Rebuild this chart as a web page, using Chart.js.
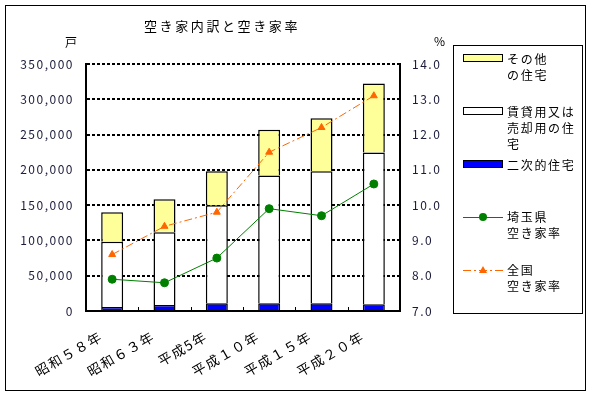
<!DOCTYPE html>
<html>
<head>
<meta charset="utf-8">
<script src="https://cdn.jsdelivr.net/npm/chart.js@4.4.0/dist/chart.umd.min.js"></script>
<style>
  body { margin: 0; background: #fff; font-family: "Noto Sans CJK JP", sans-serif; }
  #wrap { position: relative; width: 593px; height: 397px; }
  #frame { position: absolute; left: 5px; top: 5px; width: 579px; height: 384px; border: 1px solid #000; }
  canvas { position: absolute; left: 0; top: 0; }
  .txt { position: absolute; font-size: 12px; color: #000; white-space: nowrap; line-height: 16px; }
  #title { left: 144px; top: 18px; font-size: 13px; letter-spacing: 2.6px; }
  #legend { position: absolute; left: 453px; top: 45px; width: 128px; height: 267px; border: 1px solid #000; }
  .item { position: absolute; left: 9px; }
  .sw { position: absolute; left: 0; width: 38px; height: 6px; border: 1px solid #000; }
  .lbl { position: absolute; left: 44px; font-size: 12px; line-height: 16px; letter-spacing: 1.7px; white-space: nowrap; }
</style>
</head>
<body>
<div id="wrap">
  <div id="frame"></div>
  <canvas id="chart" width="593" height="397"></canvas>
  <div class="txt" id="title">空き家内訳と空き家率</div>
  <div class="txt" style="left:65px; top:34px;">戸</div>
  <div class="txt" style="left:434px; top:33px;">%</div>
  <div id="legend"></div>
</div>
<script>
// Categories (survey years)
const years = ['昭和５８年', '昭和６３年', '平成5年', '平成１０年', '平成１５年', '平成２０年'];

// Vacant houses by type (戸)
const secondHomes = [5500, 8500, 11000, 11000, 11000, 9500];
const rentSale = [92500, 103000, 139000, 181000, 187000, 215000];
const others = [42000, 47000, 48000, 65000, 75000, 98000];

// Vacancy rates (%)
const saitamaRate = [7.9, 7.8, 8.5, 9.9, 9.7, 10.6];
const nationalRate = [8.6, 9.4, 9.8, 11.5, 12.2, 13.1];

const font = { family: '"Noto Sans CJK JP", sans-serif', size: 12 };

// wider text spacing like the original bitmap font
const spacing = {
    id: 'spacing',
    beforeDraw(chart) { chart.ctx.letterSpacing = '1.5px'; }
};

// small inward tick marks between categories on the bottom axis
const innerTicks = {
    id: 'innerTicks',
    afterDatasetsDraw(chart) {
        const x = chart.scales.x;
        const ctx = chart.ctx;
        const bottom = chart.chartArea.bottom;
        ctx.save();
        ctx.strokeStyle = '#000';
        ctx.lineWidth = 1;
        for (let i = 0; i < years.length - 1; i++) {
            const px = (x.getPixelForValue(i) + x.getPixelForValue(i + 1)) / 2;
            ctx.beginPath();
            ctx.moveTo(Math.round(px) + 0.5, bottom);
            ctx.lineTo(Math.round(px) + 0.5, bottom - 4);
            ctx.stroke();
        }
        ctx.restore();
    }
};

const ctx = document.getElementById('chart').getContext('2d');
new Chart(ctx, {
    data: {
        labels: years,
        datasets: [
            {
                type: 'line', label: '埼玉県空き家率', data: saitamaRate, yAxisID: 'y1', order: 0,
                borderColor: '#008000', backgroundColor: '#008000', borderWidth: 1,
                pointStyle: 'circle', pointRadius: 4, tension: 0
            },
            {
                type: 'line', label: '全国空き家率', data: nationalRate, yAxisID: 'y1', order: 0,
                borderColor: '#FF6600', backgroundColor: '#FF6600', borderWidth: 1,
                borderDash: [8, 3, 2, 3], pointStyle: 'triangle', pointRadius: 4, tension: 0
            },
            {
                type: 'bar', label: '二次的住宅', data: secondHomes, yAxisID: 'y', order: 1,
                backgroundColor: '#0000FF', borderColor: '#000', borderWidth: 1.5
            },
            {
                type: 'bar', label: '賃貸用又は売却用の住宅', data: rentSale, yAxisID: 'y', order: 1,
                backgroundColor: '#FFFFFF', borderColor: '#000', borderWidth: 1.5
            },
            {
                type: 'bar', label: 'その他の住宅', data: others, yAxisID: 'y', order: 1,
                backgroundColor: '#FFFF99', borderColor: '#000', borderWidth: 1.5
            }
        ]
    },
    options: {
        responsive: false,
        animation: false,
        layout: { padding: { top: 64, left: 0, right: 0, bottom: 0 } },
        datasets: { bar: { barPercentage: 0.42, categoryPercentage: 1 } },
        plugins: { legend: { display: false }, tooltip: { enabled: false } },
        scales: {
            x: {
                stacked: true,
                grid: { display: false },
                border: { color: '#000', width: 2 },
                ticks: { font: { family: font.family, size: 13.5 }, color: '#000', minRotation: 30, maxRotation: 30, padding: 9, labelOffset: -11 },
                afterFit(scale) { scale.height = 86; }
            },
            y: {
                stacked: true,
                position: 'left',
                min: 0, max: 350000,
                ticks: { stepSize: 50000, font: font, color: '#1a1a3a', padding: 12,
                    callback: v => v.toLocaleString('en-US') },
                grid: { color: '#000', lineWidth: 2, drawTicks: false },
                border: { color: '#000', width: 2, dash: [3, 2] },
                afterFit(scale) { scale.width = 86; }
            },
            y1: {
                position: 'right',
                min: 7, max: 14,
                ticks: { stepSize: 1, font: font, color: '#1a1a3a', padding: 12,
                    callback: v => v.toFixed(1) },
                grid: { drawOnChartArea: false, drawTicks: false },
                border: { color: '#000', width: 2 },
                afterFit(scale) { scale.width = 193; }
            }
        }
    },
    plugins: [spacing, innerTicks]
});

// Legend (HTML)
const legendItems = [
    { top: 9, kind: 'box', color: '#FFFF99', text: 'その他<br>の住宅' },
    { top: 62, kind: 'box', color: '#FFFFFF', text: '賃貸用又は<br>売却用の住<br>宅' },
    { top: 115, kind: 'box', color: '#0000FF', text: '二次的住宅' },
    { top: 167, kind: 'line', color: '#008000', marker: 'circle', text: '埼玉県<br>空き家率' },
    { top: 220, kind: 'line', color: '#FF6600', marker: 'tri', text: '全国<br>空き家率' }
];
const legend = document.getElementById('legend');
legendItems.forEach(it => {
    const d = document.createElement('div');
    d.className = 'item';
    d.style.top = it.top + 'px';
    let sw;
    if (it.kind === 'box') {
        sw = '<div class="sw" style="top:-1px; background:' + it.color + '"></div>';
    } else {
        const dash = it.marker === 'tri' ? 'stroke-dasharray="8 3 2 3"' : '';
        const mk = it.marker === 'tri'
            ? '<polygon points="20,0 24,7 16,7" fill="' + it.color + '"/>'
            : '<circle cx="20" cy="4" r="4" fill="' + it.color + '"/>';
        sw = '<svg style="position:absolute;left:0;top:0" width="40" height="9">' +
             '<line x1="0" y1="4.5" x2="40" y2="4.5" stroke="' + it.color + '" stroke-width="1" ' + dash + '/>' + mk + '</svg>';
    }
    d.innerHTML = sw + '<div class="lbl" style="top:-4px">' + it.text + '</div>';
    legend.appendChild(d);
});
</script>
</body>
</html>
